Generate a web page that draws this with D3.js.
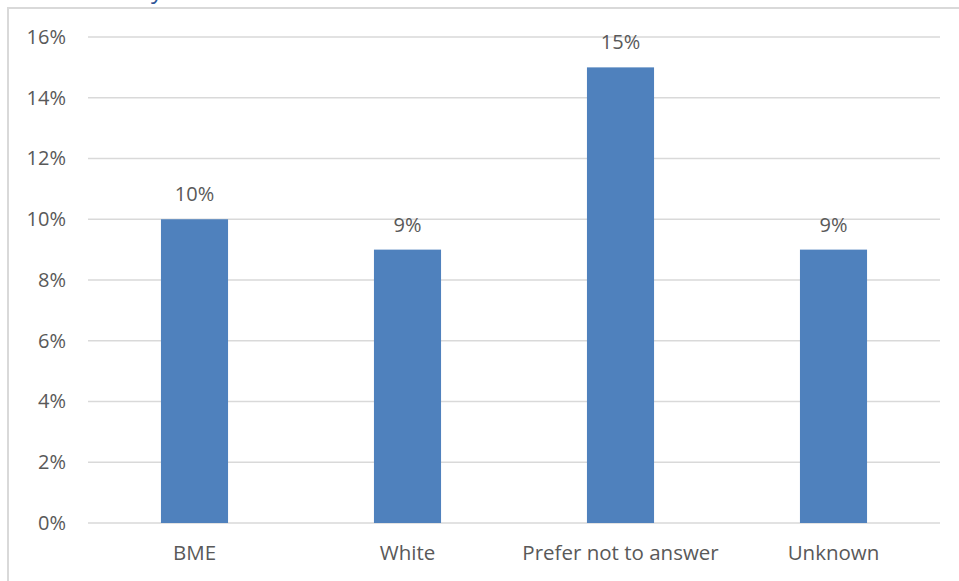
<!DOCTYPE html>
<html><head><meta charset="utf-8">
<script src="https://cdn.jsdelivr.net/npm/d3@7"></script>
<style>body{margin:0;background:#fff;} svg{display:block;}</style>
</head><body>
<svg id="chart" width="959" height="581"></svg>
<script>
const categories = ["BME", "White", "Prefer not to answer", "Unknown"];
const values = [10, 9, 15, 9];
const yTicks = [0, 2, 4, 6, 8, 10, 12, 14, 16];

const svg = d3.select("#chart");
const font = "'Open Sans', 'Liberation Sans', sans-serif";
const textColor = "#595959";

// chart frame
svg.append("rect").attr("x", 8).attr("y", 8).attr("width", 960).attr("height", 600)
  .attr("fill", "#fff").attr("stroke", "#d9d9d9").attr("stroke-width", 2);

// clipped title descender (title is cut off at the top in the reference)
svg.append("text").attr("x", 163).attr("y", -2).attr("text-anchor", "end")
  .attr("font-family", font).attr("font-size", 24).attr("fill", "#2F5597").text("Ethnicity");

const x = d3.scaleBand().domain(categories).range([88, 940]).paddingInner(0.685).paddingOuter(0.3425);
const y = d3.scaleLinear().domain([0, 16]).range([523, 37]);

// gridlines
svg.append("g").selectAll("line").data(yTicks).join("line")
  .attr("x1", 88).attr("x2", 940)
  .attr("y1", d => y(d)).attr("y2", d => y(d))
  .attr("stroke", "#d9d9d9").attr("stroke-width", 1.3);

// y axis
const yAxis = svg.append("g").attr("transform", "translate(66,0)")
  .call(d3.axisLeft(y).tickValues(yTicks).tickFormat(d => d + "%").tickSize(0).tickPadding(0));
yAxis.select(".domain").remove();
yAxis.selectAll("text").attr("font-family", font).attr("font-size", 20).attr("fill", textColor);

// bars
svg.append("g").selectAll("rect").data(values).join("rect")
  .attr("x", (d, i) => x(categories[i]))
  .attr("width", x.bandwidth())
  .attr("y", d => y(d))
  .attr("height", d => y(0) - y(d))
  .attr("fill", "#4F81BD");

// data labels
svg.append("g").selectAll("text").data(values).join("text")
  .attr("x", (d, i) => x(categories[i]) + x.bandwidth() / 2)
  .attr("y", d => y(d) - 18)
  .attr("text-anchor", "middle")
  .attr("font-family", font).attr("font-size", 20).attr("fill", textColor)
  .text(d => d + "%");

// x axis
const xAxis = svg.append("g").attr("transform", "translate(0,523)")
  .call(d3.axisBottom(x).tickSize(0).tickPadding(22));
xAxis.select(".domain").remove();
xAxis.selectAll("text").attr("font-family", font).attr("font-size", 20.5).attr("fill", textColor);
</script>
</body></html>
